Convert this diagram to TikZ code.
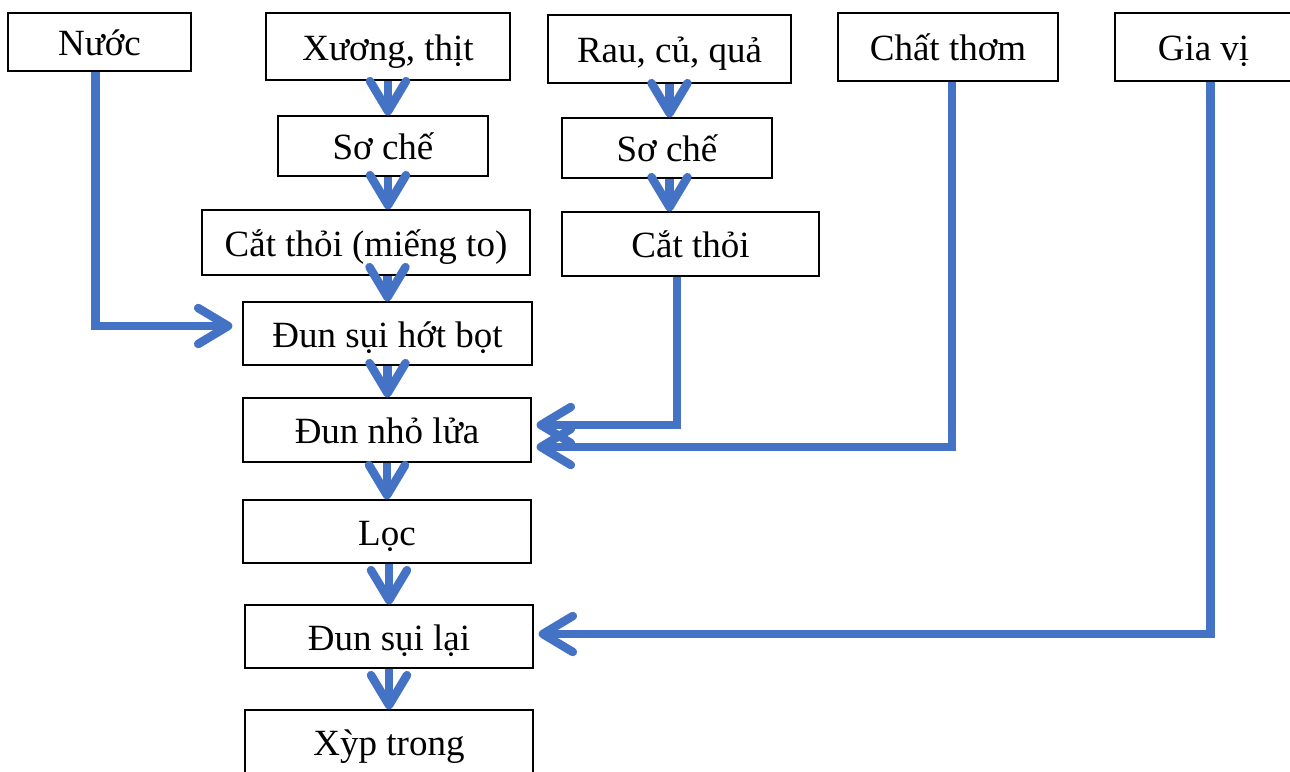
\documentclass[tikz,border=0pt]{standalone}
\usepackage{fontspec}
\setmainfont{Liberation Serif}
\usetikzlibrary{positioning}
\usetikzlibrary{arrows.meta}
\definecolor{flowblue}{HTML}{4472C4}

\begin{document}
\begin{tikzpicture}[x=1pt,y=-1pt,
  box/.style={draw,line width=1.2pt,inner sep=0pt,text height=27pt,text depth=0pt,
    font=\fontsize{37}{42}\selectfont},
  flow/.style={draw=flowblue,line width=8.5pt,
    -{Straight Barb[length=30pt,width=36pt,round]}}]
\useasboundingbox (0,0) rectangle (1290,771);
% inputs on top
\node[box,minimum width=183pt,minimum height=58pt] (nuoc) at (99.5,42) {Nước};
\node[box,minimum width=244pt,minimum height=67pt] (xuong) at (388,46.5) {Xương, thịt};
\node[box,minimum width=243pt,minimum height=68pt] (rau) at (669.5,49) {Rau, củ, quả};
\node[box,minimum width=220pt,minimum height=68pt] (thom) at (948,47) {Chất thơm};
\node[box,minimum width=177pt,minimum height=68pt] (giavi) at (1203.5,47) {Gia vị};
% meat column
\node[box,minimum width=210pt,minimum height=60pt] (soche1) at (383,146) {Sơ chế};
\node[box,minimum width=328pt,minimum height=65pt] (catto) at (366,242.5) {Cắt thỏi (miếng to)};
% vegetable column
\node[box,minimum width=210pt,minimum height=60pt] (soche2) at (667,148) {Sơ chế};
\node[box,minimum width=257pt,minimum height=64pt] (cat2) at (690.5,244) {Cắt thỏi};
% main steps
\node[box,minimum width=289pt,minimum height=63pt] (dunsui) at (387.5,333.5) {Đun sụi hớt bọt};
\node[box,minimum width=288pt,minimum height=64pt] (dunnho) at (387,430) {Đun nhỏ lửa};
\node[box,minimum width=288pt,minimum height=63pt] (loc) at (387,531.5) {Lọc};
\node[box,minimum width=288pt,minimum height=63pt] (dunlai) at (389,636.5) {Đun sụi lại};
\node[box,minimum width=288pt,minimum height=63pt] (xyp) at (389,741.5) {Xỳp trong};
% arrows
\path[flow] (xuong) -- (xuong |- soche1.north);
\path[flow] (soche1.south -| xuong) -- (xuong |- catto.north);
\path[flow] (catto.south -| dunsui) -- (dunsui.north);
\path[flow] (dunsui) -- (dunsui |- dunnho.north);
\path[flow] (dunnho) -- (dunnho |- loc.north);
\path[flow] (loc.south -| dunlai) -- (dunlai.north);
\path[flow] (dunlai) -- (dunlai |- xyp.north);
\path[flow] (rau) -- (rau |- soche2.north);
\path[flow] (soche2.south -| rau) -- (rau |- cat2.north);
\path[flow,shorten >=10pt] ([xshift=-4pt]nuoc.south) |- ([yshift=7.5pt]dunsui.west);
\path[flow,shorten >=5pt] ([xshift=-13.5pt]cat2.south) |- ([yshift=5pt]dunnho.east);
\path[flow,shorten >=5pt] ([xshift=4pt]thom.south) |- ([yshift=-17pt]dunnho.east);
\path[flow,shorten >=5pt] ([xshift=7pt]giavi.south) |- ([yshift=2.5pt]dunlai.east);
\end{tikzpicture}
\end{document}
